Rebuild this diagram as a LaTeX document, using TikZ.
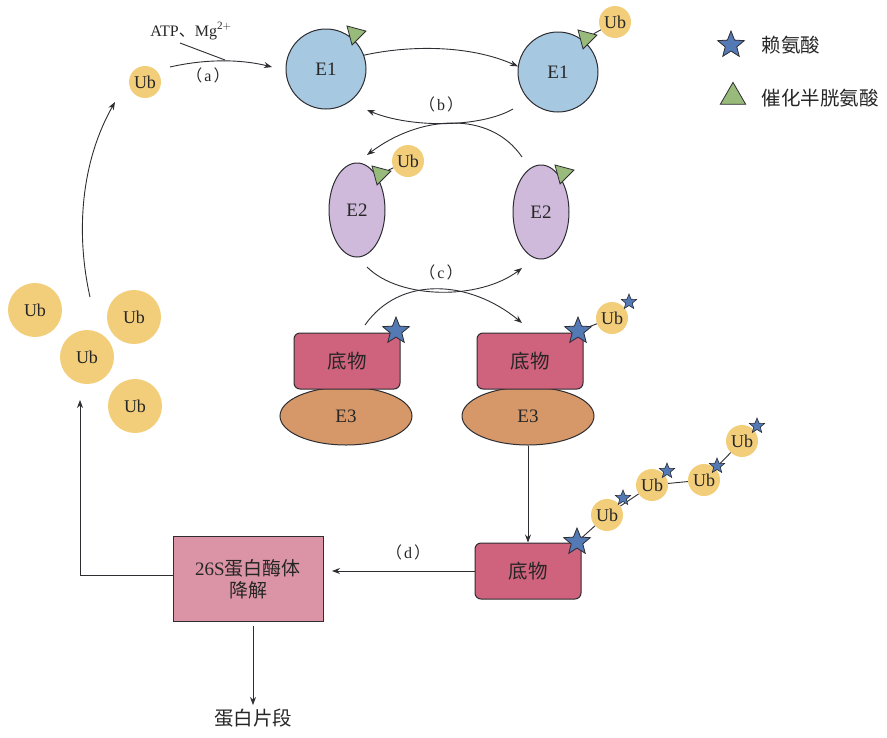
\documentclass[tikz,border=0pt]{standalone}
\usepackage{fontspec}
\setmainfont{Liberation Serif}
\newfontfamily\cjk{Noto Sans CJK SC}
\usetikzlibrary{shapes.geometric,arrows.meta}
\definecolor{ubY}{RGB}{243,206,122}
\definecolor{eoneB}{RGB}{166,200,224}
\definecolor{etwoP}{RGB}{208,186,220}
\definecolor{subR}{RGB}{207,98,124}
\definecolor{ethreeO}{RGB}{214,152,104}
\definecolor{protP}{RGB}{218,148,165}
\definecolor{starB}{RGB}{84,122,182}
\definecolor{triG}{RGB}{152,186,122}
\definecolor{lineK}{RGB}{45,45,50}
\newcommand{\lp}{{\cjk （}\kern2pt}
\newcommand{\rp}{\kern2pt{\cjk ）}}
\tikzset{
  ub/.style={circle,fill=ubY,minimum size=32pt,inner sep=0pt,font=\fontsize{18}{19}\selectfont,text=black!85},
  ubbig/.style={ub,minimum size=54pt},
  enzA/.style={circle,draw=lineK,line width=1pt,fill=eoneB,minimum size=80pt,inner sep=0pt,font=\fontsize{19}{20}\selectfont,text=black!85},
  enzB/.style={ellipse,draw=lineK,line width=1pt,fill=etwoP,minimum width=56pt,minimum height=94pt,inner sep=0pt,font=\fontsize{19}{20}\selectfont,text=black!85},
  enzC/.style={ellipse,draw=lineK,line width=1pt,fill=ethreeO,minimum width=132pt,minimum height=58pt,inner sep=0pt,font=\fontsize{19}{20}\selectfont,text=black!85},
  subbox/.style={rectangle,rounded corners=6pt,draw=lineK,line width=1pt,fill=subR,minimum width=106pt,minimum height=56pt,inner sep=0pt,font=\cjk\fontsize{19.5}{21}\selectfont,text=black!85},
  bigstar/.style={star,star points=5,star point ratio=2.3,draw=lineK,line width=0.8pt,fill=starB,minimum size=28pt,inner sep=0pt},
  smallstar/.style={bigstar,minimum size=16pt,line width=0.6pt},
  tri/.style={isosceles triangle,isosceles triangle apex angle=60,draw=lineK,line width=0.8pt,fill=triG,minimum height=17pt,inner sep=0pt},
  conn/.style={draw=lineK,line width=0.9pt,-{Stealth[length=8pt,width=6pt]}},
  plain/.style={draw=lineK,line width=0.9pt},
  lbl/.style={font=\fontsize{16}{17}\selectfont,text=black!85},
  cjklbl/.style={font=\cjk\fontsize{19.5}{21}\selectfont,text=black!85}
}
\begin{document}
\begin{tikzpicture}[x=1pt,y=-1pt]
\useasboundingbox (0,0) rectangle (887,737);
% ---- free Ub and loading
\node[ub] (ub0) at (145,82) {Ub};
\node[lbl,anchor=base] (atp) at (191,36) {ATP{\cjk 、}Mg$^{\mathrm{2+}}$};
\node[lbl] (la) at (208,75) {\lp a\rp};
% ---- E1
\node[enzA] (e1a) at (326,69) {E1};
\node[tri,rotate=15] (t1a) at (355,34) {};
\node[enzA] (e1b) at (558,72) {E1};
\node[tri,rotate=15] (t1b) at (586,38) {};
\node[ub] (ub1b) at (615,22) {Ub};
\draw[plain] (ub1b) -- (t1b);
% ---- E2
\node[enzB] (e2a) at (357,210) {E2};
\node[tri,rotate=15] (t2a) at (380,174) {};
\node[ub] (ub2a) at (408,161) {Ub};
\draw[plain] (ub2a) -- (t2a);
\node[enzB] (e2b) at (541,212) {E2};
\node[tri,rotate=15] (t2b) at (563,173) {};
\node[lbl] (lb) at (441,104) {\lp b\rp};
\node[lbl] (lc) at (441,272) {\lp c\rp};
% ---- E3 + substrate
\node[enzC] (e3a) at (346,416) {\raisebox{-6pt}{E3}};
\node[subbox] (s1) at (347,361) {底物};
\node[bigstar] (st1) at (396,331) {};
\node[enzC] (e3b) at (528,416) {\raisebox{-6pt}{E3}};
\node[subbox] (s2) at (530,361) {底物};
\node[ub] (ub3) at (612,318) {Ub};
\draw[plain] (ub3) -- (578,331);
\node[bigstar] (st2) at (578,331) {};
\node[smallstar] (st2s) at (629,302) {};
% ---- poly-Ub substrate
\node[subbox] (s3) at (528,571) {底物};
\node[ub] (p1) at (607,515) {Ub};
\node[ub] (p2) at (652,485) {Ub};
\node[ub] (p3) at (704,480) {Ub};
\node[ub] (p4) at (742,441) {Ub};
\coordinate (s3c) at (577,542);
\draw[plain] (s3c) -- (p1);
\draw[plain] (p1) -- (p2);
\draw[plain] (p2) -- (p3);
\draw[plain] (p3) -- (p4);
\node[bigstar] (st3) at (s3c) {};
\node[smallstar] (sp1) at (623,498) {};
\node[smallstar] (sp2) at (667,471) {};
\node[smallstar] (sp3) at (717,466) {};
\node[smallstar] (sp4) at (757,426) {};
\node[lbl] (ld) at (408,552) {\lp d\rp};
% ---- proteasome
\node[rectangle,draw=lineK,line width=1pt,fill=protP,minimum width=150pt,minimum height=85pt,inner sep=0pt,
      font=\fontsize{19}{22}\selectfont,text=black!85,align=center] (prot) at (248,579) {26S{\cjk 蛋白酶体}\\{\cjk 降解}};
\node[cjklbl] (frag) at (253,718) {蛋白片段};
% ---- free Ub cluster
\node[ubbig] (u1) at (35,310) {Ub};
\node[ubbig] (u2) at (134,317) {Ub};
\node[ubbig] (u3) at (87,357) {Ub};
\node[ubbig] (u4) at (135,406) {Ub};
% ---- legend
\node[bigstar] (lgs) at (731,45) {};
\node[cjklbl,anchor=west] (lgst) at (758,45) {赖氨酸};
\node[tri,shape border rotate=90,minimum height=22pt] (lgt) at (733,97) {};
\node[cjklbl,anchor=west] (lgtt) at (758,98) {催化半胱氨酸};
% ---- connectors
\coordinate (aS) at (170,67);
\coordinate (aE) at (272,67);
\coordinate (atpE) at (225,60);
\draw[conn] (aS) .. controls (205,59) and (240,59) .. (aE);
\draw[plain] (180,43) -- (atpE);
\draw[conn] (e1a.20) .. controls (410,45) and (470,45) .. (e1b.172);
\coordinate (b1S) at (513,109);
\coordinate (b1E) at (367,110);
\draw[conn] (b1S) .. controls (480,128) and (410,128) .. (b1E);
\coordinate (b2S) at (522,157);
\coordinate (b2E) at (367,155);
\draw[conn] (b2S) .. controls (490,110) and (420,115) .. (b2E);
\coordinate (c1S) at (367,267);
\coordinate (c1E) at (522,268);
\draw[conn] (c1S) .. controls (400,300) and (480,300) .. (c1E);
\coordinate (c2S) at (365,325);
\coordinate (c2E) at (522,323);
\draw[conn] (c2S) .. controls (400,275) and (470,280) .. (c2E);
\draw[conn] (e3b.south) -- (s3.north);
\coordinate (dE) at (332,571);
\draw[conn] (s3.west) -- (dE);
\coordinate (fE) at (253,705);
\draw[conn] (prot.south -| fE) ++(0,4) -- (fE);
\coordinate (rUp) at (80,400);
\draw[conn] (prot.west |- 0,575) -- (80,575) -- (rUp);
\coordinate (uS) at (90,297);
\coordinate (uE) at (115,102);
\draw[conn] (uS) .. controls (75,230) and (82,160) .. (uE);
\end{tikzpicture}
\end{document}
